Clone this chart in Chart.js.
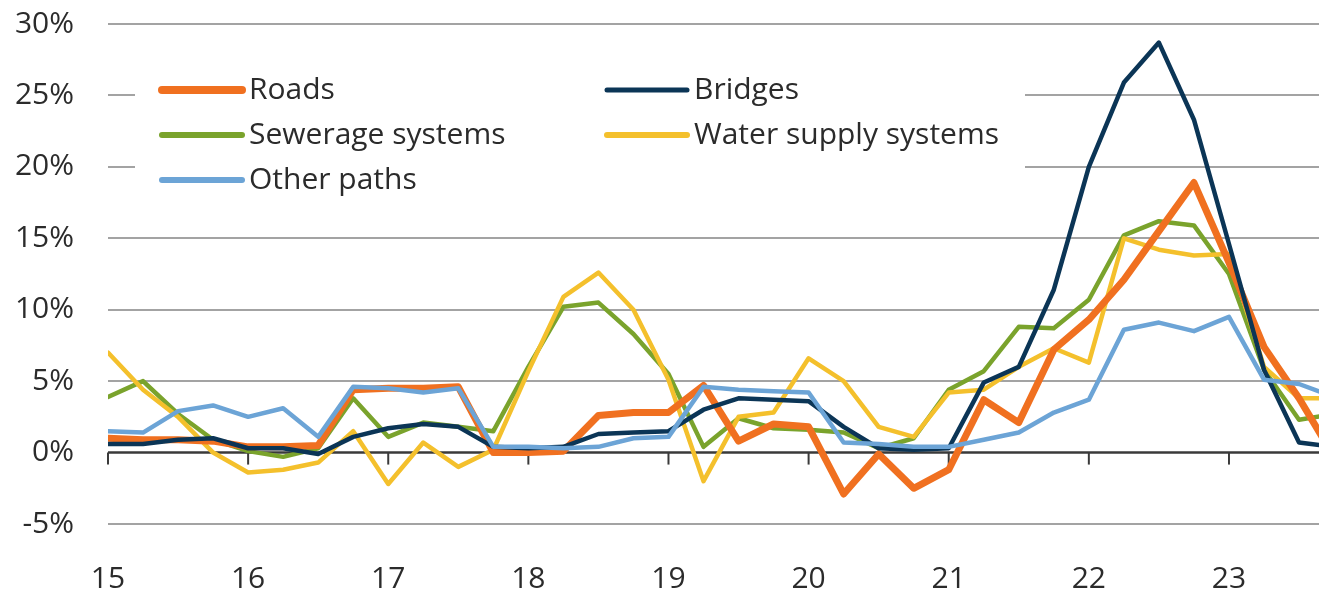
<!DOCTYPE html>
<html>
<head>
<meta charset="utf-8">
<script src="https://cdn.jsdelivr.net/npm/chart.js@4.4.1/dist/chart.umd.min.js"></script>
<style>
  html, body { margin: 0; padding: 0; background: #fff; }
  #wrap { position: relative; width: 1319px; height: 596px; }
</style>
</head>
<body>
<div id="wrap"><canvas id="chart"></canvas></div>
<script>
// year labels, one per 4 quarters (15Q1 .. 23Q4)
const years = ['15', '16', '17', '18', '19', '20', '21', '22', '23'];

// quarterly y/y growth, %
const roads = [1.0, 0.9, 0.9, 0.8, 0.4, 0.4, 0.5, 4.4, 4.5, 4.5, 4.6, 0.0, 0.0, 0.1, 2.6, 2.8, 2.8, 4.7,
  0.8, 2.0, 1.8, -2.9, -0.1, -2.5, -1.2, 3.7, 2.1, 7.2, 9.3, 12.1, 15.5, 18.9, 13.3, 7.4, 3.8, -0.3];
const bridges = [0.6, 0.6, 0.9, 1.0, 0.3, 0.3, -0.1, 1.1, 1.7, 2.0, 1.8, 0.4, 0.3, 0.4, 1.3, 1.4, 1.5, 3.0,
  3.8, 3.7, 3.6, 1.8, 0.3, 0.2, 0.3, 4.9, 6.0, 11.4, 20.0, 25.9, 28.7, 23.3, 14.6, 5.8, 0.7, 0.4];
const sewerage = [3.9, 5.0, 2.7, 0.9, 0.1, -0.3, 0.3, 3.8, 1.1, 2.1, 1.8, 1.5, 6.0, 10.2, 10.5, 8.3, 5.5, 0.4,
  2.4, 1.7, 1.6, 1.4, 0.3, 1.0, 4.4, 5.7, 8.8, 8.7, 10.7, 15.2, 16.2, 15.9, 12.5, 5.8, 2.3, 2.7];
const water = [7.0, 4.4, 2.5, 0.0, -1.4, -1.2, -0.7, 1.5, -2.2, 0.7, -1.0, 0.2, 5.7, 10.9, 12.6, 10.0, 5.1, -2.0,
  2.5, 2.8, 6.6, 5.0, 1.8, 1.1, 4.2, 4.4, 6.0, 7.3, 6.3, 15.0, 14.2, 13.8, 13.9, 6.0, 3.8, 3.8];
const otherPaths = [1.5, 1.4, 2.9, 3.3, 2.5, 3.1, 1.1, 4.6, 4.5, 4.2, 4.5, 0.4, 0.4, 0.3, 0.4, 1.0, 1.1, 4.6,
  4.4, 4.3, 4.2, 0.7, 0.6, 0.4, 0.4, 0.9, 1.4, 2.8, 3.7, 8.6, 9.1, 8.5, 9.5, 5.1, 4.8, 3.9];

const yTicks = [-5, 0, 5, 10, 15, 20, 25, 30];

const COL = {
  roads: '#f07020',
  bridges: '#0b3556',
  sewerage: '#7aa32c',
  water: '#f4c02c',
  other: '#6ca4d6'
};

const toPoints = arr => arr.map((v, i) => ({ x: i, y: v }));

function serie(label, data, color, width, order) {
  return {
    label: label,
    data: toPoints(data),
    borderColor: color,
    backgroundColor: color,
    borderWidth: width,
    pointRadius: 0,
    tension: 0,
    borderJoinStyle: 'round',
    borderCapStyle: 'round',
    order: order
  };
}

// legend in a white box sitting on the plot (covers the grid lines)
const legendRows = [
  { text: 'Roads', color: COL.roads, w: 8, x: 162, y: 90 },
  { text: 'Sewerage systems', color: COL.sewerage, w: 6, x: 162, y: 135 },
  { text: 'Other paths', color: COL.other, w: 6, x: 162, y: 180 },
  { text: 'Bridges', color: COL.bridges, w: 5, x: 607, y: 90 },
  { text: 'Water supply systems', color: COL.water, w: 6, x: 607, y: 135 }
];

const boxLegend = {
  id: 'boxLegend',
  beforeDatasetsDraw(chart) {
    const ctx = chart.ctx;
    const x = chart.scales.x, y = chart.scales.y;
    ctx.save();
    // white backing for the legend
    ctx.fillStyle = '#fff';
    ctx.fillRect(135, 50, 890, 165);
    // zero line with year ticks
    const y0 = y.getPixelForValue(0);
    ctx.strokeStyle = '#3a3a3a';
    ctx.lineWidth = 2.5;
    ctx.beginPath();
    ctx.moveTo(chart.chartArea.left, y0);
    ctx.lineTo(chart.chartArea.right, y0);
    ctx.stroke();
    ctx.lineWidth = 2;
    x.ticks.forEach(t => {
      const px = x.getPixelForValue(t.value);
      ctx.beginPath();
      ctx.moveTo(px, y0);
      ctx.lineTo(px, y0 + 12);
      ctx.stroke();
    });
    ctx.restore();
  },
  afterDraw(chart) {
    const ctx = chart.ctx;
    ctx.save();
    ctx.font = "30px 'Open Sans'";
    ctx.textBaseline = 'middle';
    ctx.lineCap = 'round';
    legendRows.forEach(r => {
      ctx.strokeStyle = r.color;
      ctx.lineWidth = r.w;
      ctx.beginPath();
      ctx.moveTo(r.x, r.y);
      ctx.lineTo(r.x + 80, r.y);
      ctx.stroke();
      ctx.fillStyle = '#2b2b2b';
      ctx.fillText(r.text, r.x + 87, r.y);
    });
    ctx.restore();
  }
};

Chart.defaults.font.family = "'Open Sans', sans-serif";
Chart.defaults.font.size = 30;
Chart.defaults.color = '#2b2b2b';

new Chart(document.getElementById('chart'), {
  type: 'line',
  data: {
    datasets: [
      serie('Other paths', otherPaths, COL.other, 4.5, 1),
      serie('Bridges', bridges, COL.bridges, 4.5, 2),
      serie('Roads', roads, COL.roads, 7, 3),
      serie('Water supply systems', water, COL.water, 4.5, 4),
      serie('Sewerage systems', sewerage, COL.sewerage, 4.5, 5)
    ]
  },
  options: {
    responsive: true,
    maintainAspectRatio: false,
    animation: false,
    layout: { padding: { top: 24, right: 0, left: 0, bottom: 0 } },
    plugins: { legend: { display: false }, tooltip: { enabled: false } },
    scales: {
      x: {
        type: 'linear',
        min: 0,
        max: 34.57,
        grid: { display: false, drawTicks: false },
        border: { display: false },
        afterBuildTicks: s => { s.ticks = years.map((_, i) => ({ value: i * 4 })); },
        afterFit: s => { s.height = 72; },
        ticks: {
          padding: 37,
          maxRotation: 0,
          callback: v => years[v / 4]
        }
      },
      y: {
        min: -5,
        max: 30,
        afterBuildTicks: s => { s.ticks = yTicks.map(v => ({ value: v })); },
        afterFit: s => { s.width = 108; s.paddingTop = 0; s.paddingBottom = 0; },
        grid: {
          drawTicks: false,
          lineWidth: 2,
          color: c => (c.tick && c.tick.value === 0) ? 'rgba(0,0,0,0)' : '#a3a3a3'
        },
        border: { display: false },
        ticks: {
          padding: 34,
          callback: v => v + '%'
        }
      }
    }
  },
  plugins: [boxLegend]
});
</script>
</body>
</html>
